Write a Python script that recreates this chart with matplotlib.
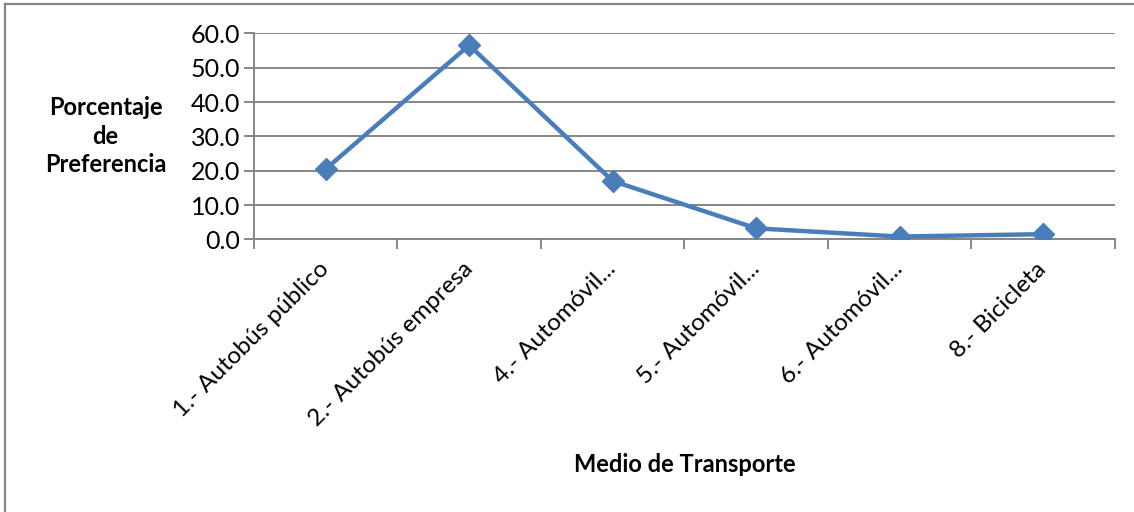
import matplotlib.pyplot as plt
import numpy as np
from matplotlib.lines import Line2D

categorias = ["1.- Autobús público", "2.- Autobús empresa", "4.- Automóvil...",
              "5.- Automóvil...", "6.- Automóvil...", "8.- Bicicleta"]
porcentaje = [20.5, 56.6, 17.0, 3.2, 0.8, 1.5]
y_ticks = [0, 10, 20, 30, 40, 50, 60]

azul = "#4a7ebb"
gris = "#868686"

plt.rcParams['font.family'] = ['Lato', 'DejaVu Sans']

fig = plt.figure(figsize=(11.34, 5.12), dpi=100)
ax = fig.add_axes([0.224, 0.5326, 0.759, 0.402])

x = np.arange(len(categorias))
ax.plot(x, porcentaje, color=azul, linewidth=3.2, marker='D', markersize=11,
        markeredgecolor=azul, markerfacecolor=azul, zorder=3)

ax.set_xlim(-0.5, len(categorias) - 0.5)
ax.set_ylim(0, 60)
ax.set_yticks(y_ticks)
ax.set_yticklabels([f"{v:.1f}" for v in y_ticks], fontsize=18)
ax.yaxis.grid(True, color=gris, linewidth=1.4)
ax.set_axisbelow(True)

# category labels at centres, tick marks on the boundaries
ax.set_xticks(x)
ax.set_xticklabels(categorias, rotation=45, ha='right', va='center',
                   rotation_mode='anchor', fontsize=17.5)
ax.tick_params(axis='x', length=0, pad=19)
ax.set_xticks(np.arange(-0.5, len(categorias)), minor=True)
ax.tick_params(axis='x', which='minor', length=7, width=1.4, color=gris)
ax.tick_params(axis='y', length=7, width=1.4, color=gris, pad=3)

for side in ['top', 'right']:
    ax.spines[side].set_visible(False)
for side in ['left', 'bottom']:
    ax.spines[side].set_color(gris)
    ax.spines[side].set_linewidth(1.4)

fig.text(0.093, 0.734, "Porcentaje\nde\nPreferencia", ha='center', va='center',
         fontsize=17, fontweight='bold', linespacing=1.3)
fig.text(0.604, 0.092, "Medio de Transporte", ha='center', va='center',
         fontsize=17, fontweight='bold')

# chart frame: only the left and top edges fall inside the image
fig.lines.append(Line2D([0.0045, 0.0045], [0.0, 0.992], transform=fig.transFigure,
                        color=gris, linewidth=1.6))
fig.lines.append(Line2D([0.0045, 1.0], [0.992, 0.992], transform=fig.transFigure,
                        color=gris, linewidth=1.6))

fig.savefig("out.png", dpi=100)
